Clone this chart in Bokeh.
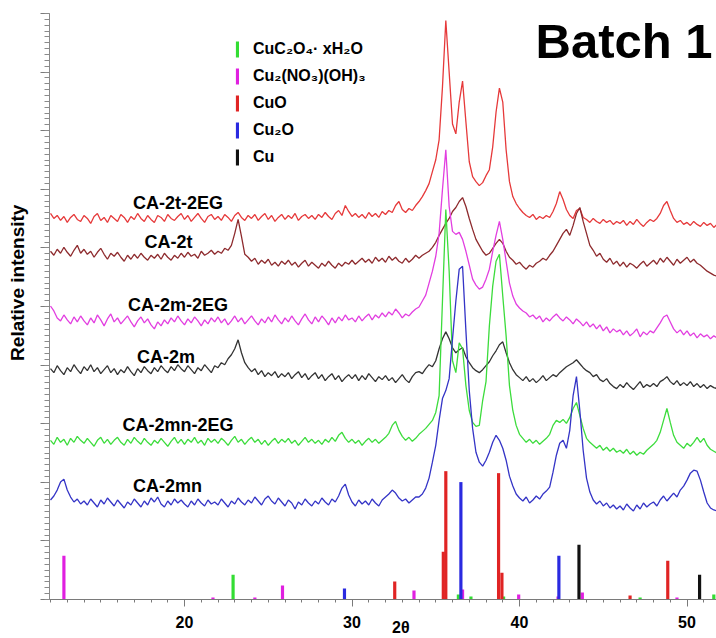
import numpy as np
from bokeh.plotting import figure
from bokeh.models import Range1d, FixedTicker, Label, Legend, LegendItem
from bokeh.core.properties import value
from bokeh.embed import file_html
from bokeh.resources import INLINE

# ---------------- data ----------------
# 2-theta sampling grid of the measured patterns (12.0 .. 51.8 deg, step 0.2)
two_theta = np.round(12.0 + 0.2 * np.arange(200), 1)

# stacked, offset intensities (arbitrary units)
ca_2t_2eg = [
    388, 383, 386, 381, 385, 379, 384, 387, 382, 380,
    386, 383, 378, 385, 388, 381, 384, 379, 386, 383,
    380, 387, 384, 379, 385, 382, 388, 383, 380, 386,
    382, 379, 386, 384, 380, 387, 383, 381, 385, 388,
    382, 386, 380, 384, 388, 383, 379, 385, 387, 382,
    385, 381, 387, 384, 380, 386, 389, 384, 381, 386,
    383, 387, 381, 385, 388, 382, 386, 380, 384, 387,
    382, 386, 383, 388, 381, 385, 387, 383, 386, 382,
    387, 384, 389, 385, 382, 388, 391, 386, 396, 390,
    385, 388, 384, 387, 383, 389, 385, 388, 384, 390,
    387, 391, 389, 396, 400, 392, 389, 393, 391, 396,
    400, 405, 411, 418, 430, 442, 462, 515, 582, 530,
    478, 468, 500, 521, 480, 440, 425, 420, 416, 419,
    426, 432, 455, 490, 514, 500, 452, 420, 405, 398,
    393, 389, 386, 384, 387, 382, 385, 383, 386, 384,
    390, 398, 410, 402, 392, 386, 383, 391, 393, 384,
    382, 379, 383, 380, 378, 382, 379, 381, 377, 380,
    378, 381, 376, 380, 377, 382, 378, 375, 379, 382,
    380, 383, 388, 396, 400, 391, 383, 379, 381, 377,
    379, 376, 380, 377, 375, 379, 376, 378, 374, 377,
]
ca_2t = [
    350, 346, 352, 348, 354, 349, 345, 351, 356, 348,
    352, 347, 350, 344, 349, 353, 347, 342, 348, 345,
    349, 344, 340, 346, 342, 347, 343, 348, 344, 341,
    346, 343, 347, 342, 348, 344, 341, 346, 343, 348,
    344, 349, 345, 347, 343, 350, 346, 348, 351, 347,
    350, 348, 353, 351, 356, 368, 382, 365, 347, 344,
    340, 343, 337, 341, 338, 342, 336, 339, 335, 340,
    337, 341, 336, 339, 334, 338, 341, 335, 339, 336,
    333, 338, 335, 340, 336, 333, 338, 335, 339, 337,
    341, 337, 340, 343, 339, 342, 338, 344, 340, 343,
    339, 345, 341, 344, 340, 338, 343, 339, 342, 346,
    343, 346, 348, 350, 354, 359, 366, 372, 378, 383,
    390, 394, 400, 404, 395, 383, 372, 362, 356, 350,
    346, 348, 353, 358, 362, 358, 350, 344, 341, 337,
    339, 335, 332, 336, 334, 338, 340, 343, 341, 346,
    350, 356, 362, 368, 372, 366, 376, 388, 394, 380,
    368, 356, 351, 345, 348, 342, 339, 343, 337, 340,
    335, 339, 334, 338, 336, 333, 337, 340, 335, 338,
    341, 337, 343, 339, 344, 340, 336, 342, 338, 341,
    344, 339, 342, 338, 336, 333, 330, 328, 326, 325,
]
ca_2m_2eg = [
    295, 290, 283, 280, 286, 281, 277, 284, 279, 285,
    280, 276, 283, 278, 286, 281, 275, 282, 287, 279,
    283, 277, 281, 285, 279, 274, 280, 284, 278, 282,
    276, 272, 279, 275, 281, 277, 283, 279, 285, 280,
    276, 282, 278, 284, 280, 275, 281, 277, 283, 279,
    284, 278, 282, 276, 280, 285, 279, 283, 277, 281,
    285, 280, 276, 282, 278, 284, 279, 286, 281, 277,
    283, 279, 285, 280, 276, 282, 287, 281, 277, 284,
    279, 285, 281, 276, 283, 278, 284, 280, 286, 281,
    283, 279, 285, 280, 284, 287, 281, 286, 283, 288,
    284, 289, 286, 292, 288, 283, 287, 285, 289, 292,
    294, 300, 306, 318, 330, 345, 368, 412, 452, 395,
    370, 367, 369, 362, 350, 336, 322, 316, 312, 314,
    322, 332, 350, 366, 380, 362, 340, 318, 305, 297,
    293, 290, 288, 284, 286, 282, 285, 279, 283, 280,
    284, 287, 283, 280, 284, 281, 277, 282, 279, 275,
    279, 274, 277, 272, 276, 270, 274, 268, 272, 269,
    271, 266, 270, 265, 268, 272, 264, 269, 266, 270,
    268, 273, 278, 284, 286, 279, 272, 268, 271, 266,
    270, 265, 268, 263, 267, 264, 266, 262, 265, 263,
]
ca_2m = [
    232, 228, 235, 230, 226, 233, 229, 236, 231, 227,
    234, 230, 236, 229, 233, 227, 231, 235, 228, 232,
    226, 231, 228, 234, 229, 225, 232, 228, 234, 230,
    227, 233, 229, 235, 231, 228, 234, 230, 236, 232,
    229, 235, 231, 227, 233, 230, 236, 232, 228, 235,
    233, 238, 236, 242, 246, 252, 261, 248, 238, 233,
    229, 232, 226, 230, 224, 228, 225, 229, 223, 227,
    224, 228, 222, 226, 229, 223, 227, 221, 225, 228,
    222, 226, 220, 224, 227, 221, 225, 219, 223, 226,
    222, 226, 220, 225, 221, 227, 223, 219, 224, 221,
    225, 220, 223, 218, 222, 226, 221, 218, 224, 228,
    229, 227, 232, 236, 234, 240, 252, 262, 269, 262,
    253, 248, 251, 253, 244, 238, 233, 230, 228, 231,
    235, 239, 245, 250, 256, 259, 248, 238, 231, 226,
    223, 220, 224, 219, 222, 218, 221, 225, 220, 223,
    226, 224, 228, 231, 234, 236, 238, 241, 237, 233,
    230, 228, 224, 226, 221, 219, 222, 217, 214, 212,
    216, 213, 218, 214, 211, 215, 219, 213, 216, 214,
    217, 214, 219, 221, 224, 219, 216, 220, 215, 218,
    215, 219, 214, 217, 213, 216, 212, 215, 213, 212,
]
ca_2mn_2eg = [
    160, 156, 163, 158, 161, 155, 162, 158, 164, 160,
    157, 162, 158, 154, 160, 163, 157, 161, 156, 160,
    163, 158, 155, 161, 157, 163, 159, 156, 162, 158,
    155, 160, 157, 162, 158, 154, 159, 163, 157, 161,
    156, 161, 158, 163, 157, 160, 155, 162, 158, 161,
    157, 162, 159, 155, 160, 164, 158, 161, 156, 160,
    163, 158, 161, 156, 160, 155, 159, 162, 157, 161,
    158, 162, 157, 160, 155, 159, 163, 158, 161, 157,
    160, 156, 161, 158, 163, 159, 165, 168, 162, 158,
    161, 157, 160, 155, 159, 162, 158, 161, 157, 160,
    163, 167, 175, 179, 170, 164, 160, 163, 159, 162,
    166, 169, 172, 176, 180, 188, 205, 300, 392, 330,
    240, 228, 258, 252, 215, 190, 178, 174, 175, 200,
    219, 275, 315, 340, 347, 305, 265, 215, 190, 175,
    166, 162, 158, 161, 157, 160, 156, 159, 162, 166,
    175, 180, 178, 181, 177, 183, 192, 198, 185, 172,
    162, 158, 155, 152, 155, 150, 153, 149, 152, 148,
    150, 147, 151, 146, 149, 145, 148, 146, 150, 153,
    156, 160, 168, 180, 192, 178, 165, 158, 155, 152,
    157, 154, 158, 163, 158, 162, 155, 151, 149, 147,
]
ca_2mn = [
    100, 104, 110, 118, 121, 110, 103, 98, 101, 96,
    99, 95, 101, 97, 93, 100, 96, 102, 98, 94,
    100, 96, 92, 98, 95, 101, 97, 93, 99, 95,
    102, 98, 103, 96, 93, 99, 95, 101, 97, 100,
    96, 93, 99, 95, 101, 97, 94, 100, 96, 98,
    95, 101, 97, 93, 99, 96, 102, 98, 95, 100,
    97, 103, 99, 95, 101, 104, 99, 96, 102, 98,
    94, 100, 97, 91, 98, 95, 101, 97, 94, 99,
    96, 102, 98, 95, 101, 98, 104, 112, 116, 105,
    98, 94, 100, 96, 99, 95, 101, 97, 94, 100,
    103, 106, 110, 107, 102, 99, 101, 97, 100, 103,
    103, 106, 112, 122, 138, 155, 180, 202, 210, 222,
    262, 300, 332, 335, 270, 210, 172, 148, 138, 134,
    140, 148, 158, 165, 160, 152, 140, 124, 114, 106,
    102, 99, 103, 97, 100, 104, 101, 106, 109, 113,
    128, 145, 157, 160, 152, 170, 205, 224, 190, 150,
    122, 108, 100, 96, 99, 94, 97, 92, 95, 91,
    94, 90, 96, 92, 89, 95, 91, 97, 93, 96,
    98, 94, 100, 104, 99, 103, 107, 103, 110, 114,
    120, 127, 130, 129, 120, 108, 97, 92, 90, 89,
]

sample_names = ["CA-2t-2EG", "CA-2t", "CA-2m-2EG", "CA-2m", "CA-2mn-2EG", "CA-2mn"]

# reference patterns (stick positions in 2-theta and relative heights)
oxalate_pos = [22.9, 36.35, 37.1, 39.05, 47.2, 51.6]
oxalate_int = [25, 5, 3, 3, 2, 5]
nitrate_pos = [12.8, 21.7, 24.2, 25.85, 33.7, 36.6, 39.95, 42.3, 43.75, 49.4]
nitrate_int = [44, 2, 2, 14, 9, 10, 5, 3, 7, 2]
cuo_pos = [32.55, 35.45, 35.6, 38.75, 38.95, 46.6, 48.85]
cuo_int = [18, 48, 129, 127, 27, 4, 39]
cu2o_pos = [29.55, 36.5, 42.35]
cu2o_int = [11, 118, 44]
cu_pos = [43.55, 50.75]
cu_int = [55, 25]

phase_names = ["CuC\u2082O\u2084\u00b7 xH\u2082O", "Cu\u2082(NO\u2083)(OH)\u2083", "CuO", "Cu\u2082O", "Cu"]

x_ticks = [20, 30, 40, 50]

# ---------------- styling ----------------
FONT = value("Liberation Sans")
NBSP = "\u00a0"
trace_colors = ["#e6393a", "#8e2b2e", "#e23ee0", "#333333", "#3cdc3c", "#3434c6"]
phase_colors = ["#33dd33", "#e020e0", "#e02424", "#2a2ae0", "#111111"]

p = figure(width=716, height=638, output_backend="svg", toolbar_location=None,
           x_range=Range1d(11.94, 51.76), y_range=Range1d(0, 589),
           min_border_left=49, min_border_right=0, min_border_top=13, min_border_bottom=36)
p.outline_line_color = None
p.xgrid.visible = False
p.ygrid.visible = False
p.background_fill_color = "white"

traces = [ca_2t_2eg, ca_2t, ca_2m_2eg, ca_2m, ca_2mn_2eg, ca_2mn]
for ys, col in zip(traces, trace_colors):
    p.line(two_theta, ys, line_color=col, line_width=1.3)

# sticks
stick_sets = [(oxalate_pos, oxalate_int), (nitrate_pos, nitrate_int), (cuo_pos, cuo_int),
              (cu2o_pos, cu2o_int), (cu_pos, cu_int)]
stick_renderers = []
for (pos, inten), col in zip(stick_sets, phase_colors):
    r = p.vbar(x=pos, top=inten, bottom=0, width=0.19, fill_color=col, line_color=None)
    stick_renderers.append(r)

legend = Legend(items=[LegendItem(label=n, renderers=[r]) for n, r in zip(phase_names, stick_renderers)],
                location=(186, 432), glyph_width=4, glyph_height=20, label_standoff=14,
                spacing=7, padding=0, margin=0, border_line_color=None, background_fill_alpha=0,
                label_text_font="Liberation Sans", label_text_font_style="bold",
                label_text_font_size="16px", label_text_color="black")
p.add_layout(legend)

# sample labels
lab_x = [19.61, 19.04, 19.61, 18.9, 19.61, 18.99]
lab_y = [399, 359, 296, 244, 175, 114]
p.text(x=lab_x, y=lab_y, text=sample_names, text_font=FONT, text_font_style="bold",
       text_font_size="18px", text_align="center", text_baseline="middle", text_color="black")

# axes
p.xaxis.ticker = FixedTicker(ticks=x_ticks, minor_ticks=list(range(12, 52)))
p.xaxis.major_tick_in = 0
p.xaxis.major_tick_out = 7
p.xaxis.minor_tick_in = 0
p.xaxis.minor_tick_out = 3
p.xaxis.axis_line_color = "#7a7a7a"
p.xaxis.major_tick_line_color = "#7a7a7a"
p.xaxis.minor_tick_line_color = "#7a7a7a"
p.xaxis.major_label_text_font = "Liberation Sans"
p.xaxis.major_label_text_font_style = "bold"
p.xaxis.major_label_text_font_size = "16px"
p.xaxis.major_label_text_color = "black"
p.xaxis.major_label_standoff = 9
p.xaxis.axis_label = NBSP * 8 + "2\u03b8"
p.xaxis.axis_label_text_font = "Liberation Sans"
p.xaxis.axis_label_text_font_style = "bold"
p.xaxis.axis_label_text_font_size = "16px"
p.xaxis.axis_label_text_color = "black"
p.xaxis.axis_label_standoff = -12

p.yaxis.ticker = FixedTicker(ticks=[58.9 * k for k in range(11)],
                             minor_ticks=[5.89 * k for k in range(101)])
p.yaxis.major_label_text_font_size = "1px"
p.yaxis.major_label_text_color = None
p.yaxis.major_label_standoff = 0
p.yaxis.major_tick_in = 0
p.yaxis.major_tick_out = 9
p.yaxis.minor_tick_in = 0
p.yaxis.minor_tick_out = 5
p.yaxis.axis_line_color = "#8a8a8a"
p.yaxis.major_tick_line_color = "#7a7a7a"
p.yaxis.minor_tick_line_color = "#8a8a8a"
p.yaxis.axis_label = NBSP * 9 + "Relative intensity"
p.yaxis.axis_label_text_font = "Liberation Sans"
p.yaxis.axis_label_text_font_style = "bold"
p.yaxis.axis_label_text_font_size = "19px"
p.yaxis.axis_label_text_color = "black"
p.yaxis.axis_label_standoff = 13

p.add_layout(Label(x=663, y=559, x_units="screen", y_units="screen", text="Batch 1",
                   text_align="right", text_baseline="middle", text_color="black",
                   text_font="Liberation Sans", text_font_style="bold", text_font_size="49px"))

open("out.html", "w").write(file_html(p, INLINE))
